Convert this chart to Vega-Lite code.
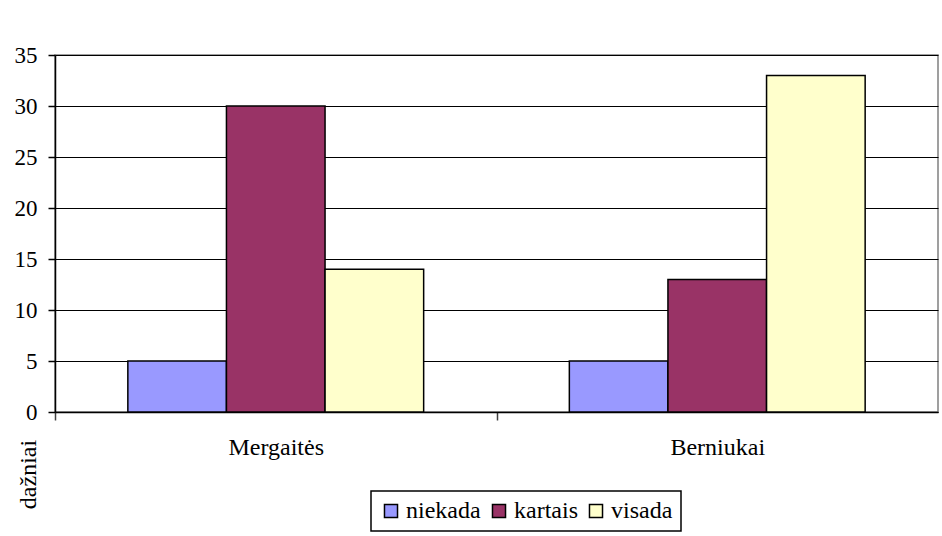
{
  "$schema": "https://vega.github.io/schema/vega-lite/v6.json",
  "width": 883,
  "height": 357,
  "autosize": {"type": "none"},
  "padding": {"left": 55, "top": 55, "right": 4, "bottom": 124},
  "background": "white",
  "data": {
    "values": [
      {"grupe": "Mergaitės", "atsakymas": "niekada", "daznis": 5},
      {"grupe": "Mergaitės", "atsakymas": "kartais", "daznis": 30},
      {"grupe": "Mergaitės", "atsakymas": "visada", "daznis": 14},
      {"grupe": "Berniukai", "atsakymas": "niekada", "daznis": 5},
      {"grupe": "Berniukai", "atsakymas": "kartais", "daznis": 13},
      {"grupe": "Berniukai", "atsakymas": "visada", "daznis": 33}
    ]
  },
  "mark": {"type": "bar", "stroke": "#000000", "strokeWidth": 1.5},
  "encoding": {
    "x": {
      "field": "grupe",
      "type": "nominal",
      "sort": ["Mergaitės", "Berniukai"],
      "scale": {"paddingInner": 0.33, "paddingOuter": 0.165},
      "axis": {
        "title": null,
        "labelAngle": 0,
        "labelFont": "Liberation Serif",
        "labelFontSize": 24,
        "labelColor": "#000000",
        "labelPadding": 15,
        "tickOffset": -220.75,
        "labelOffset": 220.75,
        "tickExtra": true,
        "tickSize": 8,
        "tickColor": "#404040",
        "domainColor": "#000000",
        "grid": false
      }
    },
    "xOffset": {
      "field": "atsakymas",
      "type": "nominal",
      "sort": ["niekada", "kartais", "visada"],
      "scale": {"paddingInner": 0, "paddingOuter": 0}
    },
    "y": {
      "field": "daznis",
      "type": "quantitative",
      "scale": {"domain": [0, 35], "nice": false},
      "axis": {
        "title": "dažniai",
        "titleFont": "Liberation Serif",
        "titleFontSize": 24,
        "titleFontWeight": "normal",
        "titleColor": "#000000",
        "titleAngle": -90,
        "titleAlign": "center",
        "titleBaseline": "middle",
        "titleX": -27,
        "titleY": 419,
        "values": [0, 5, 10, 15, 20, 25, 30, 35],
        "labelFont": "Liberation Serif",
        "labelFontSize": 23,
        "labelColor": "#000000",
        "labelPadding": 11,
        "tickSize": 7,
        "tickColor": "#000000",
        "domainColor": "#000000",
        "grid": true,
        "gridColor": "#000000",
        "gridWidth": 1,
        "gridOpacity": 1
      }
    },
    "color": {
      "field": "atsakymas",
      "type": "nominal",
      "sort": ["niekada", "kartais", "visada"],
      "scale": {
        "domain": ["niekada", "kartais", "visada"],
        "range": ["#9999FF", "#993366", "#FFFFCC"]
      },
      "legend": {
        "title": null,
        "orient": "none",
        "direction": "horizontal",
        "legendX": 316,
        "legendY": 436,
        "symbolType": "square",
        "symbolSize": 170,
        "symbolStrokeColor": "#000000",
        "symbolOpacity": 1,
        "labelFont": "Liberation Serif",
        "labelFontSize": 24,
        "labelColor": "#000000",
        "labelOffset": 3,
        "columnPadding": 6,
        "padding": 8,
        "strokeColor": "#000000"
      }
    }
  },
  "config": {
    "view": {"stroke": "#808080", "strokeWidth": 1.5},
    "axis": {"domainWidth": 1.5, "tickWidth": 1.5},
    "legend": {"strokeWidth": 1.5, "symbolStrokeWidth": 1.5}
  }
}
